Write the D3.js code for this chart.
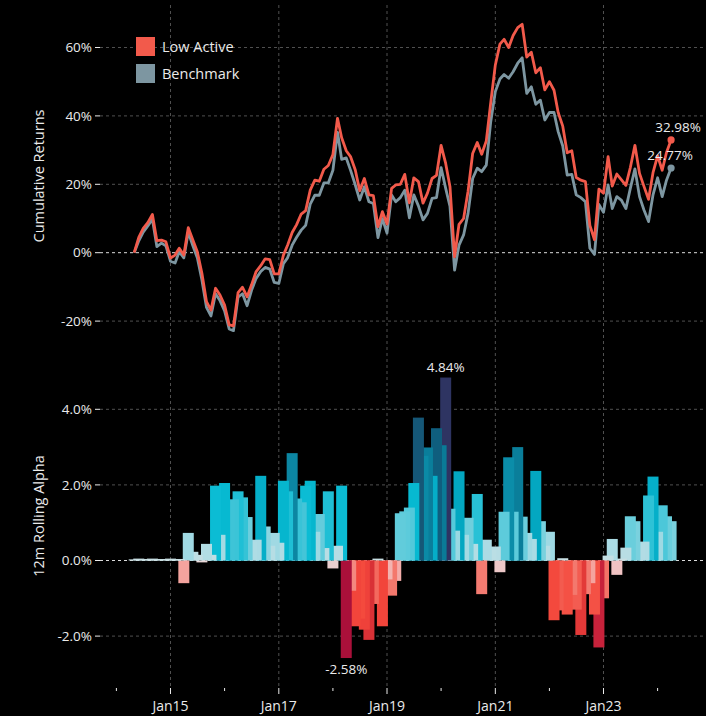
<!DOCTYPE html>
<html>
<head>
<meta charset="utf-8">
<script src="https://cdn.jsdelivr.net/npm/d3@7"></script>
<style>
  html, body { margin: 0; padding: 0; background: #000; }
  svg { display: block; font-family: "Open Sans", "Noto Sans", sans-serif; }
</style>
</head>
<body>
<svg id="chart" width="706" height="716"></svg>
<script>
// ---- data -------------------------------------------------------------
const firstMonth = new Date(2014, 4, 1); // monthly observations from May 2014

// cumulative returns, %
const lowActive = [
  0, 4.5, 7.1, 8.8, 11.2, 3.5, 3.7, 3.2, -1.6, -0.7,
  1.3, -0.7, 7.3, 3.7, 0.3, -6.0, -14.3, -16.8, -10.4, -12.4,
  -15.3, -21.1, -21.4, -11.7, -10.1, -12.9, -9.4, -5.5, -3.8, -1.8,
  -2.0, -6.2, -6.2, -0.7, 2.2, 5.9, 8.2, 11.3, 12.3, 18.3,
  21.2, 20.9, 24.4, 25.5, 28.7, 39.3, 33.6, 29.8, 28.0, 24.2,
  18.1, 21.7, 16.9, 16.7, 7.6, 12.0, 8.4, 18.8, 19.8, 20.0,
  22.9, 14.6, 21.9, 20.8, 14.5, 17.4, 21.7, 22.6, 31.4, 26.1,
  19.3, -1.2, 8.3, 10.0, 18.0, 29.0, 32.2, 28.8, 32.7, 43.9,
  54.9, 61.0, 62.4, 60.0, 63.5, 65.8, 66.8, 57.2, 58.6, 52.6,
  54.1, 47.6, 50.0, 47.5, 41.0, 37.0, 29.2, 29.8, 22.0, 21.2,
  20.8, 8.0, 3.8, 18.6, 17.4, 28.1, 19.5, 23.0, 21.4, 19.7,
  24.9, 31.4, 23.2, 19.4, 15.6, 23.4, 28.3, 24.1, 29.3, 32.98
];
const benchmark = [
  0, 3.5, 6.0, 7.8, 9.8, 1.8, 2.8, 2.0, -2.5, -3.0,
  0.3, -1.5, 6.0, 2.0, -1.5, -8.0, -16.0, -18.5, -12.0, -14.0,
  -17.0, -22.3, -22.8, -13.0, -12.0, -15.5, -11.0, -7.5, -5.5, -4.3,
  -4.8, -8.7, -9.0, -3.2, -1.5, 2.2, 4.5, 6.6, 8.0, 14.2,
  16.8, 16.8, 20.4, 20.4, 24.1, 35.2, 27.3, 27.7, 24.0, 19.8,
  15.4, 19.3, 14.9, 14.4, 4.4, 10.0, 5.7, 16.9, 14.9, 16.1,
  18.3, 10.2, 16.9, 13.7, 9.6, 11.5, 15.9, 16.1, 24.9, 18.8,
  13.5, -5.1, 2.2, 5.2, 11.5, 21.7, 24.7, 23.7, 25.6, 38.3,
  47.1, 50.8, 52.1, 51.0, 52.9, 55.4, 57.0, 46.6, 48.5, 43.4,
  44.6, 38.8, 41.0, 41.0, 35.4, 31.2, 22.7, 22.9, 16.9, 16.1,
  14.9, 1.3, -0.5, 14.1, 11.8, 19.8, 12.9, 16.4, 15.4, 12.9,
  18.8, 24.5, 16.4, 12.5, 9.1, 16.9, 21.9, 16.4, 21.2, 24.77
];
// 12-month rolling alpha, %
const rollingAlpha = [
  0.03, 0.05, 0.04, 0.03, 0.05, 0.02, 0.04, 0.03, 0.05, 0.03, 0.04,
  -0.6, 0.73, 0.23, 0.15, -0.05, 0.44, 0.15, 1.98, 0.68, 2.05,
  1.6, 1.62, 1.83, 1.67, 1.15, 0.5, 0.55, 2.24, 0.9, 0.39,
  0.73, 0.47, 2.11, 1.83, 2.84, 1.64, 1.54, 1.98, 2.11, 0.76,
  1.23, 0.33, 1.83, -0.21, 0.39, 1.98, -2.58, -0.8, -1.74, -1.54,
  -1.83, -2.1, -1.15, 0.05, -1.74, -0.5, -0.93, -0.54, 1.25, 1.3,
  1.4, 2.05, 3.78, 2.77, 2.99, 2.24, 3.5, 3.05, 4.84, 1.37,
  0.79, 2.36, 0.68, 1.13, 0.44, 1.76, -0.89, 0.55, 0.3, 0.37,
  -0.31, 1.29, 2.73, 1.29, 3.0, 1.16, 0.73, 0.57, 2.37, 1.04,
  0.39, 0.76, -1.58, -1.32, 0.06, -1.43, -0.91, -1.3, -1.97, -0.89,
  -0.6, -1.43, -2.3, -1.0, 0.13, 0.57, -0.38, 0.05, 0.34, 1.17,
  1.04, 0.45, 0.5, 1.72, 2.22, 0.76, 1.46, 1.17, 1.04
];

const seriesNames = ["Low Active", "Benchmark"];
const returnTicks = [-20, 0, 20, 40, 60];
const alphaTicks = [-2, 0, 2, 4];
const tickYears = [2014, 2015, 2016, 2017, 2018, 2019, 2020, 2021, 2022, 2023, 2024];
const labelledYears = [2015, 2017, 2019, 2021, 2023];

// ---- setup ------------------------------------------------------------
const months = lowActive.map((_, i) => d3.timeMonth.offset(firstMonth, i));
const svg = d3.select("#chart");
const plotLeft = 100, plotRight = 704;
const gridTop = 5, axisY = 688;

const colors = { low: "#f25a4b", bench: "#7d96a1", text: "#ebebeb", grid: "#505050", zero: "#dcdcdc" };

const x = d3.scaleTime()
  .domain([new Date(2014, 0, 1), new Date(2024, 0, 1)])
  .range([116.4, 657.6]);
const yRet = d3.scaleLinear().domain([-20, 60]).range([321.1, 47.5]);
const yAlpha = d3.scaleLinear().domain([-2, 4]).range([636.1, 409.3]);

const posColor = d3.scaleLinear()
  .domain([0, 0.4, 0.75, 1.2, 1.6, 2.0, 2.35, 2.8, 3.0, 3.5, 3.8, 4.84])
  .range(["#cadfe3", "#b5dde4", "#9fd9e3", "#66cddc", "#3ec4d7", "#08bcd4",
          "#03a8c2", "#0c88a4", "#0a7e9a", "#0f5e7e", "#155677", "#2e3462"])
  .clamp(true);
const negColor = d3.scaleLinear()
  .domain([0, -0.25, -0.4, -0.6, -0.9, -1.2, -1.5, -1.8, -2.1, -2.35, -2.6])
  .range(["#eadada", "#e9cccc", "#f2c2c2", "#f4a39e", "#f37a6f", "#f3655a",
          "#f44b3e", "#f1433a", "#d93136", "#c21e3c", "#a80f3a"])
  .clamp(true);
const barColor = v => v >= 0 ? posColor(v) : negColor(v);

// ---- grid -------------------------------------------------------------
const grid = svg.append("g");
labelledYears.forEach(yr => {
  const gx = x(new Date(yr, 0, 1));
  grid.append("line")
    .attr("x1", gx).attr("x2", gx).attr("y1", gridTop).attr("y2", axisY - 2)
    .attr("stroke", colors.grid).attr("stroke-dasharray", "3,3");
});
function hGrid(scale, ticks) {
  ticks.forEach(t => {
    grid.append("line")
      .attr("x1", plotLeft).attr("x2", plotRight)
      .attr("y1", scale(t)).attr("y2", scale(t))
      .attr("stroke", t === 0 ? colors.zero : colors.grid)
      .attr("stroke-dasharray", "3,3");
  });
}
hGrid(yRet, returnTicks);
hGrid(yAlpha, alphaTicks);

// ---- y axes -----------------------------------------------------------
function yAxis(scale, ticks, fmt) {
  const g = svg.append("g");
  ticks.forEach(t => {
    g.append("line").attr("x1", 95).attr("x2", 100)
      .attr("y1", scale(t)).attr("y2", scale(t))
      .attr("stroke", colors.text);
    g.append("text").attr("x", 92).attr("y", scale(t)).attr("dy", "0.35em")
      .attr("text-anchor", "end").attr("fill", colors.text)
      .attr("font-size", 13.5).text(fmt(t));
  });
}
yAxis(yRet, returnTicks, t => t + "%");
yAxis(yAlpha, alphaTicks, t => t.toFixed(1) + "%");

svg.append("text")
  .attr("transform", "translate(44,176) rotate(-90)")
  .attr("text-anchor", "middle").attr("fill", colors.text).attr("font-size", 14.5)
  .text("Cumulative Returns");
svg.append("text")
  .attr("transform", "translate(44,516) rotate(-90)")
  .attr("text-anchor", "middle").attr("fill", colors.text).attr("font-size", 14.5)
  .text("12m Rolling Alpha");

// ---- x axis -----------------------------------------------------------
const xa = svg.append("g");
const fmtMonth = d3.timeFormat("%b%y");
tickYears.forEach(yr => {
  const d = new Date(yr, 0, 1);
  const major = labelledYears.includes(yr);
  xa.append("line").attr("x1", x(d)).attr("x2", x(d))
    .attr("y1", axisY).attr("y2", axisY + (major ? 6 : 3))
    .attr("stroke", colors.text);
  if (major) {
    xa.append("text").attr("x", x(d)).attr("y", 711)
      .attr("text-anchor", "middle").attr("fill", colors.text)
      .attr("font-size", 14).text(fmtMonth(d));
  }
});

// ---- cumulative return lines -----------------------------------------
const lowData = months.map((d, i) => ({ date: d, value: lowActive[i] }));
const benchData = months.map((d, i) => ({ date: d, value: benchmark[i] }));
const line = d3.line().x(d => x(d.date)).y(d => yRet(d.value));

svg.append("path").datum(benchData).attr("d", line)
  .attr("fill", "none").attr("stroke", colors.bench).attr("stroke-width", 2.8)
  .attr("stroke-linejoin", "round");
svg.append("path").datum(lowData).attr("d", line)
  .attr("fill", "none").attr("stroke", colors.low).attr("stroke-width", 2.8)
  .attr("stroke-linejoin", "round");

const lastLow = lowData[lowData.length - 1];
const lastBench = benchData[benchData.length - 1];
const fmtPct = v => v.toFixed(2) + "%";
[[lastBench, colors.bench, -1], [lastLow, colors.low, 7]].forEach(([p, c, dx]) => {
  svg.append("circle").attr("cx", x(p.date)).attr("cy", yRet(p.value))
    .attr("r", 3.6).attr("fill", c);
  svg.append("text").attr("x", x(p.date) + dx).attr("y", yRet(p.value) - 7.5)
    .attr("text-anchor", "middle").attr("fill", colors.text).attr("font-size", 13.5)
    .text(fmtPct(p.value));
});

// ---- legend -----------------------------------------------------------
const legend = svg.append("g").attr("transform", "translate(136,37)");
[colors.low, colors.bench].forEach((c, i) => {
  legend.append("rect").attr("x", 0).attr("y", i * 27).attr("width", 19).attr("height", 19)
    .attr("fill", c);
  legend.append("text").attr("x", 26).attr("y", i * 27 + 9.5).attr("dy", "0.35em")
    .attr("fill", colors.text).attr("font-size", 14.5).text(seriesNames[i]);
});

// ---- rolling alpha bars -----------------------------------------------
const alphaData = months.map((d, i) => ({ date: d, value: rollingAlpha[i] }));
const barW = 11;
svg.append("g").selectAll("rect")
  .data(alphaData.slice().reverse())   // newest first, so earlier months sit on top
  .join("rect")
  .attr("x", d => x(d.date) - barW / 2)
  .attr("width", barW)
  .attr("y", d => yAlpha(Math.max(0, d.value)))
  .attr("height", d => Math.abs(yAlpha(d.value) - yAlpha(0)))
  .attr("fill", d => barColor(d.value));

const maxBar = alphaData.reduce((a, b) => (b.value > a.value ? b : a));
const minBar = alphaData.reduce((a, b) => (b.value < a.value ? b : a));
svg.append("text").attr("x", x(maxBar.date)).attr("y", yAlpha(maxBar.value) - 6)
  .attr("text-anchor", "middle").attr("fill", colors.text).attr("font-size", 13.5)
  .text(fmtPct(maxBar.value));
svg.append("text").attr("x", x(minBar.date)).attr("y", yAlpha(minBar.value) + 16)
  .attr("text-anchor", "middle").attr("fill", colors.text).attr("font-size", 13.5)
  .text(fmtPct(minBar.value));
</script>
</body>
</html>
